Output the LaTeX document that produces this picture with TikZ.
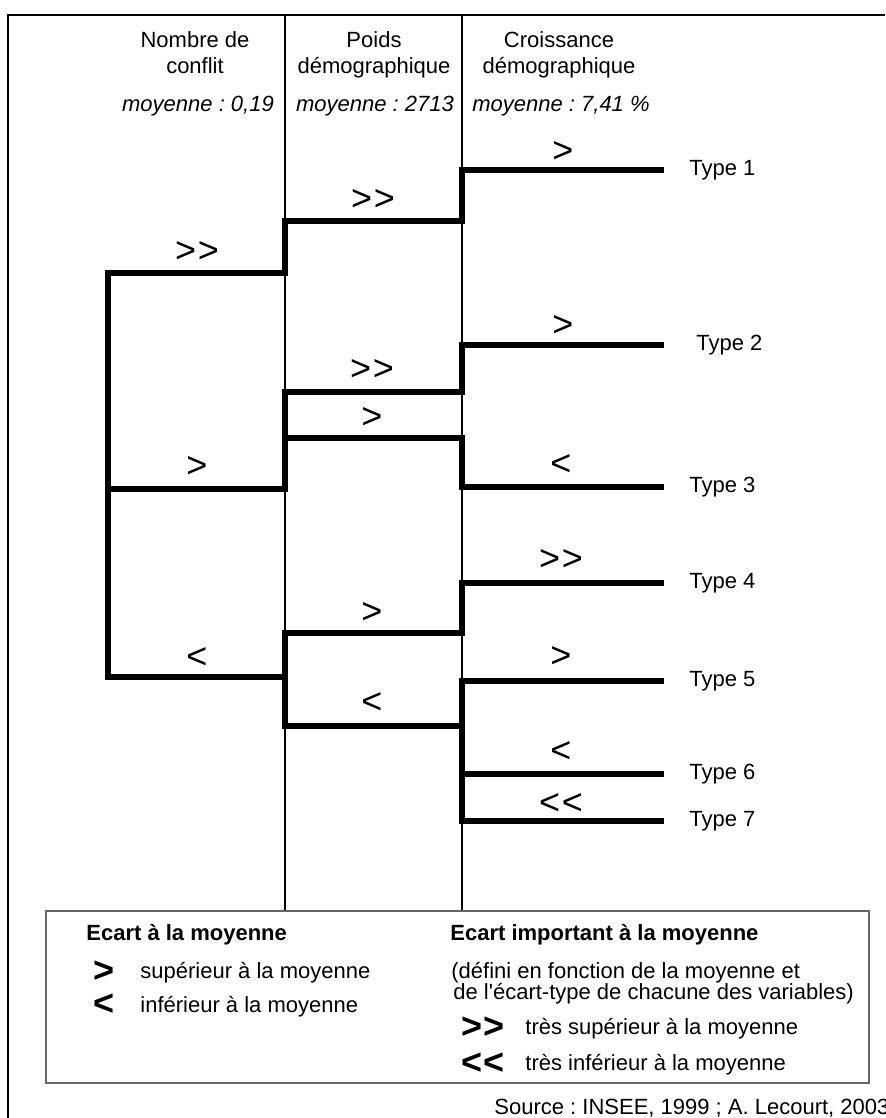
\documentclass[tikz,border=0pt]{standalone}
\usepackage{fontspec}
\setmainfont{Liberation Sans}[Ligatures=TeXOff]
\usetikzlibrary{calc}
\frenchspacing

\newcommand\symhi{>}
\newcommand\symlo{<}
\newcommand\symhihi{>\kern0.8pt>}
\newcommand\symlolo{<\kern0.8pt<}

\begin{document}
\begin{tikzpicture}[
    x=0.5pt, y=-0.5pt,
    every node/.style={font=\fontsize{11}{13}\selectfont, inner sep=0pt},
    frame/.style={line width=1pt},
    divider/.style={line width=0.75pt},
    legbox/.style={draw=black!60, line width=0.6pt},
    branch/.style={line width=3pt, line cap=rect},
    sym/.style={font=\fontsize{18}{18}\selectfont},
    bsym/.style={font=\fontsize{18}{18}\selectfont\bfseries},
    head/.style={anchor=base},
    mean/.style={anchor=base, font=\fontsize{11}{13}\selectfont\itshape},
    typelab/.style={anchor=west},
    legtxt/.style={anchor=base west},
    legtitle/.style={anchor=base west, font=\fontsize{11}{13}\selectfont\bfseries},
]
\useasboundingbox (0,0) rectangle (885,1118);

% ============================================================ frame and columns
\draw[frame] (885,15) -- (8,15) -- (8,1118);
\coordinate (d1) at (285,15);
\coordinate (d2) at (462,15);
\coordinate (lg) at (46,911);
\draw[divider] (d1) -- (d1 |- lg);
\draw[divider] (d2) -- (d2 |- lg);

\node[head] (h1) at (195,48) {Nombre de};
\node[head] (h1b) at (195,74) {conflit};
\node[head] (h2) at (374,48) {Poids};
\node[head] (h2b) at (374,74) {démographique};
\node[head] (h3) at (559,48) {Croissance};
\node[head] (h3b) at (559,74) {démographique};
\node[mean] (a1) at (198,112) {moyenne : 0,19};
\node[mean] (a2) at (375,112) {moyenne : 2713};
\node[mean] (a3) at (561,112) {moyenne : 7,41 \%};

% ============================================================ the tree
\coordinate (k1) at (108,273);
\coordinate (k2) at (108,489);
\coordinate (k3) at (108,677);
\coordinate (m1) at (285,221);
\coordinate (m2) at (285,392);
\coordinate (m3) at (285,438);
\coordinate (m4) at (285,633);
\coordinate (m5) at (285,726);
\foreach \n/\y/\x in {1/170/689, 2/345/696, 3/487/689, 4/583/689, 5/681/689, 6/774/689, 7/821/689}{
    \coordinate (e\n) at (661,\y);
    \node[typelab] (t\n) at (\x,\y) {Type \n};
}

\draw[branch] (k1) -- (k3);
\draw[branch] (k1) -| (m1) -- (m1 -| d2) |- (e1);
\draw[branch] (k2) -| (m2) -- (m2 -| d2) |- (e2);
\draw[branch] (m3) -- (m3 -| d2) |- (e3);
\draw[branch] (k3) -| (m4) -- (m4 -| d2) |- (e4);
\draw[branch] (m4) -- (m5) -- (m5 -| d2);
\draw[branch] (e5 -| d2) -- (e7 -| d2);
\foreach \n in {5,6,7}
    \draw[branch] (e\n -| d2) -- (e\n);

% signs above the branches
\foreach \x/\y/\s/\n in {197/252/\symhihi/1, 197/467/\symhi/2, 197/658/\symlo/3,
        373/200/\symhihi/4, 372/370/\symhihi/5, 372/418/\symhi/6, 372/613/\symhi/7, 372/703/\symlo/8,
        563/152/\symhi/9, 563/326/\symhi/10, 561/465/\symlo/11, 561/560/\symhihi/12,
        561/657/\symhi/13, 561/752/\symlo/14, 561/804/\symlolo/15}{
    \node[sym] (s\n) at (\x,\y) {\s};
}

% ============================================================ legend
\draw[legbox] (lg) rectangle (869,1083);
\node[legtitle] (g1) at (86,940) {Ecart à la moyenne};
\node[bsym] (g1a) at (104,972) {\symhi};
\node[legtxt] (g1b) at (140,978) {supérieur à la moyenne};
\node[bsym] (g1c) at (104,1005) {\symlo};
\node[legtxt] (g1d) at (140,1012) {inférieur à la moyenne};

\node[legtitle] (g2) at (450,940) {Ecart important à la moyenne};
\node[legtxt] (g2a) at (451,978) {(défini en fonction de la moyenne et};
\node[legtxt] (g2b) at (453,999) {de l'écart-type de chacune des variables)};
\node[bsym] (g2c) at (483,1028) {\symhihi};
\node[legtxt] (g2d) at (525,1034) {très supérieur à la moyenne};
\node[bsym] (g2e) at (483,1064) {\symlolo};
\node[legtxt] (g2f) at (525,1070) {très inférieur à la moyenne};

\node[legtxt] (src) at (494,1114) {Source : INSEE, 1999 ; A. Lecourt, 2003};

\end{tikzpicture}
\end{document}
